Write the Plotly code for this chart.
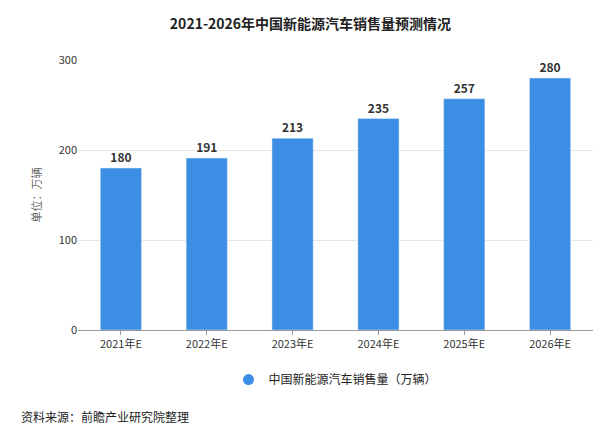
import plotly.graph_objects as go

years = ["2021年E", "2022年E", "2023年E", "2024年E", "2025年E", "2026年E"]
sales = [180, 191, 213, 235, 257, 280]
series_name = "中国新能源汽车销售量（万辆）"

fig = go.Figure()
fig.add_bar(x=years, y=sales, name=series_name, showlegend=False,
            marker_color="#3b8ee3", width=0.48,
            text=[f"<b>{v}</b>" for v in sales], textposition="outside",
            textfont=dict(size=12, color="#333", family="Noto Sans CJK SC"),
            cliponaxis=False)
# legend entry with a round marker
fig.add_scatter(x=[None], y=[None], mode="markers", name=series_name,
                marker=dict(symbol="circle", size=11, color="#3b8ee3"))

fig.update_layout(
    width=605, height=434,
    margin=dict(l=70, r=20, t=52, b=112),
    plot_bgcolor="white", paper_bgcolor="white",
    font=dict(family="Noto Sans CJK SC", size=12, color="#333"),
    title=dict(text="<b>2021-2026年中国新能源汽车销售量预测情况</b>",
               x=0.5, xanchor="center", y=0.975, yanchor="top",
               font=dict(size=14, color="#222")),
    yaxis=dict(range=[0, 300], dtick=100, gridcolor="#e6e6e6", zeroline=False,
               showline=False, ticks="", tickfont=dict(size=11),
               title=dict(text="单位：万辆", font=dict(size=11, color="#666"), standoff=14)),
    xaxis=dict(showline=True, linecolor="#999", ticks="outside", ticklen=4,
               tickcolor="#999", tickfont=dict(size=11)),
    showlegend=True,
    legend=dict(orientation="h", x=0.5, xanchor="center", y=-0.13, yanchor="top",
                font=dict(size=12, color="#222")),
)
fig.add_annotation(text="资料来源：前瞻产业研究院整理", xref="paper", yref="paper",
                   x=-0.115, y=-0.28, xanchor="left", yanchor="top",
                   showarrow=False, font=dict(size=12, color="#222"))
fig.write_html("out.html")
